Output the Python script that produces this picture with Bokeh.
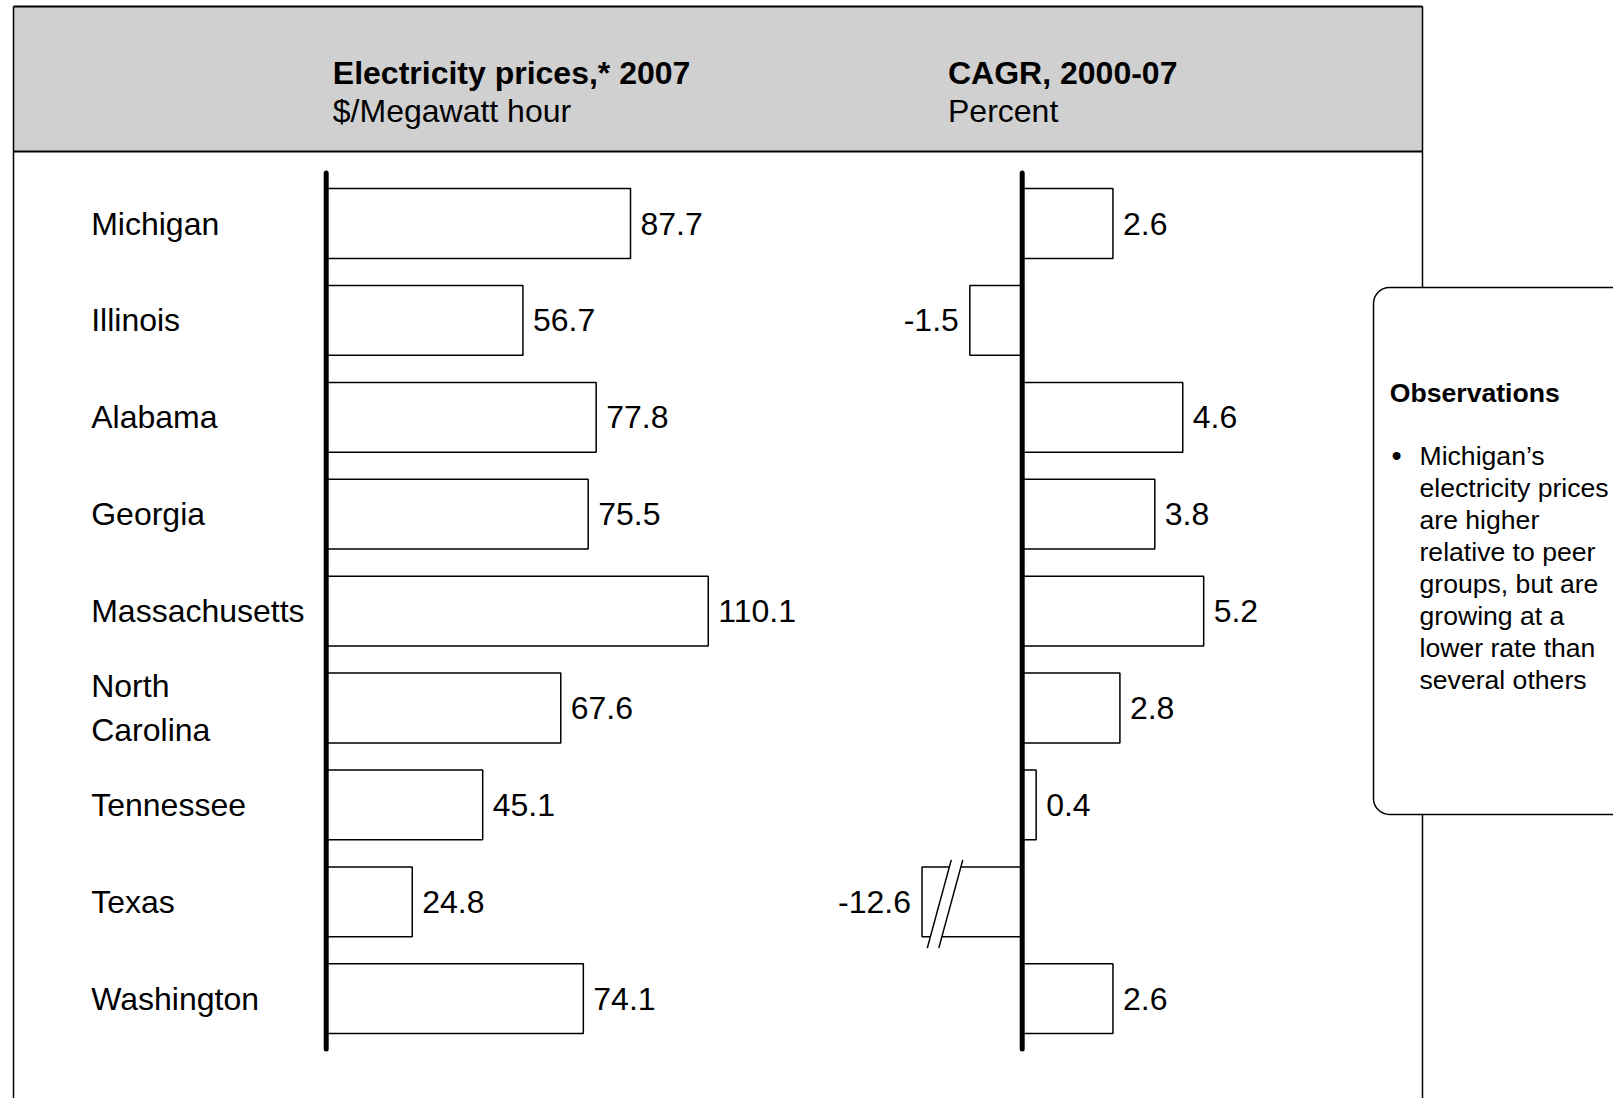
import numpy as np
from bokeh.plotting import figure
from bokeh.models import Range1d, ColumnDataSource, BoxAnnotation
from bokeh.core.properties import value
from bokeh.embed import file_html
from bokeh.resources import INLINE

# ---------------- data ----------------
states = ["Michigan", "Illinois", "Alabama", "Georgia", "Massachusetts",
          "North\nCarolina", "Tennessee", "Texas", "Washington"]
prices_2007 = [87.7, 56.7, 77.8, 75.5, 110.1, 67.6, 45.1, 24.8, 74.1]
cagr_2000_07 = [2.6, -1.5, 4.6, 3.8, 5.2, 2.8, 0.4, -12.6, 2.6]

left_title = "Electricity prices,* 2007"
left_unit = "$/Megawatt hour"
right_title = "CAGR, 2000-07"
right_unit = "Percent"
obs_title = "Observations"
obs_lines = ["Michigan\u2019s", "electricity prices", "are higher",
             "relative to peer", "groups, but are", "growing at a",
             "lower rate than", "several others"]

# ---------------- layout constants ----------------
W, H = 1613, 1098
CAGR_BREAK = -2.87          # negative CAGR bars longer than this are cut (axis break)
FONT = value("Liberation Sans")
FS = "32px"
OBS_FS = "26.6px"

n = len(states)
rows = np.arange(n)
price = np.array(prices_2007)
cagr = np.array(cagr_2000_07)
cagr_disp = np.maximum(cagr, CAGR_BREAK)

src = ColumnDataSource(dict(
    row=rows, state=states, price=price,
    price_lbl=[f"{v:.1f}" for v in price],
))
pos = cagr >= 0
src_pos = ColumnDataSource(dict(row=rows[pos], v=cagr_disp[pos],
                                lbl=[f"{v:.1f}" for v in cagr[pos]]))
src_neg = ColumnDataSource(dict(row=rows[~pos], v=cagr_disp[~pos],
                                lbl=[f"{v:.1f}" for v in cagr[~pos]]))
src_cagr = ColumnDataSource(dict(row=rows, v=cagr_disp))

# ---------------- figure ----------------
p = figure(width=W, height=H, x_range=Range1d(0, W), y_range=Range1d(H, 0),
           output_backend="svg", toolbar_location=None, min_border=0,
           x_axis_location=None, y_axis_location=None,
           outline_line_color=None, background_fill_color="white")
p.grid.visible = False

PX_PRICE, Z_PRICE = 3.47, 325.7
PX_CAGR, Z_CAGR = 34.9, 1021.7
ROW_PX, ROW0 = 96.9, 223.0
p.extra_x_ranges = {
    "price": Range1d(-Z_PRICE / PX_PRICE, (W - Z_PRICE) / PX_PRICE),
    "cagr": Range1d(-Z_CAGR / PX_CAGR, (W - Z_CAGR) / PX_CAGR),
}
p.extra_y_ranges = {"rows": Range1d((H - ROW0) / ROW_PX, -ROW0 / ROW_PX)}

# header band + frame
BOX_L, BOX_T, BOX_B = 1373, 287, 814
p.quad(left=13, right=1422, top=6, bottom=151, fill_color="#d0d0d0", line_color=None)
p.segment(x0=[13, 1422, 1422, 13, 13], y0=[6, 6, BOX_B, 6, 151],
          x1=[13, 1422, 1422, 1422, 1422], y1=[H, BOX_T, H, 6, 151],
          line_color="black", line_width=[1.5, 1.5, 1.5, 2, 2])

# header texts
p.text(x=[332.3, 947.5], y=[72, 72], text=[left_title, right_title],
       text_font=FONT, text_font_size=FS, text_font_style="bold",
       text_baseline="middle", text_align="left", text_color="black")
p.text(x=[332.3, 947.5], y=[110, 110], text=[left_unit, right_unit],
       text_font=FONT, text_font_size=FS,
       text_baseline="middle", text_align="left", text_color="black")

# state labels
p.text(x=90.7, y="row", text="state", source=src, y_range_name="rows",
       text_font=FONT, text_font_size=FS, text_baseline="middle",
       text_align="left", text_color="black", text_line_height=1.2)

# left chart: prices
p.hbar(y="row", left=0, right="price", height=0.72, source=src,
       x_range_name="price", y_range_name="rows",
       fill_color="white", line_color="black", line_width=1.5)
p.text(x="price", y="row", text="price_lbl", source=src, x_offset=10,
       x_range_name="price", y_range_name="rows",
       text_font=FONT, text_font_size=FS, text_baseline="middle",
       text_align="left", text_color="black")

# right chart: CAGR
p.hbar(y="row", left=0, right="v", height=0.72, source=src_cagr,
       x_range_name="cagr", y_range_name="rows",
       fill_color="white", line_color="black", line_width=1.5)
p.text(x="v", y="row", text="lbl", source=src_pos, x_offset=10,
       x_range_name="cagr", y_range_name="rows",
       text_font=FONT, text_font_size=FS, text_baseline="middle",
       text_align="left", text_color="black")
p.text(x="v", y="row", text="lbl", source=src_neg, x_offset=-11,
       x_range_name="cagr", y_range_name="rows",
       text_font=FONT, text_font_size=FS, text_baseline="middle",
       text_align="right", text_color="black")

# axis-break marks on bars cut at CAGR_BREAK
cut = np.where(cagr < CAGR_BREAK)[0]
slope = -0.755   # x units per row along the slash
for r in cut:
    yb, yt = r + 0.478, r - 0.433
    x1b, x2b = CAGR_BREAK + 0.15, CAGR_BREAK + 0.48
    gy = 0.375
    gx = lambda xb, yy: xb + slope * (yy - yb)
    p.patch(x=[gx(x1b, r + gy), gx(x2b, r + gy), gx(x2b, r - gy), gx(x1b, r - gy)],
            y=[r + gy, r + gy, r - gy, r - gy],
            x_range_name="cagr", y_range_name="rows",
            fill_color="white", line_color=None)
    p.segment(x0=[x1b, x2b], y0=[yb, yb],
              x1=[gx(x1b, yt), gx(x2b, yt)], y1=[yt, yt],
              x_range_name="cagr", y_range_name="rows",
              line_color="black", line_width=1.5)

# vertical axes
p.segment(x0=[0], y0=[-0.52], x1=[0], y1=[n - 1 + 0.52],
          x_range_name="price", y_range_name="rows",
          line_color="black", line_width=5, line_cap="round")
p.segment(x0=[0], y0=[-0.52], x1=[0], y1=[n - 1 + 0.52],
          x_range_name="cagr", y_range_name="rows",
          line_color="black", line_width=5, line_cap="round")

# observations box
box = BoxAnnotation(left=BOX_L, right=1700, top=BOX_T, bottom=BOX_B,
                    fill_color="white", fill_alpha=1.0,
                    line_color="black", line_alpha=1.0, line_width=1.5,
                    border_radius=16, level="underlay")
p.add_layout(box)
p.text(x=[1389.3], y=[392], text=[obs_title], text_font=FONT,
       text_font_size=OBS_FS, text_font_style="bold",
       text_baseline="middle", text_align="left", text_color="black")
p.text(x=[1391], y=[455.7], text=["\u2022"], text_font=FONT,
       text_font_size="29px", text_baseline="middle", text_align="left",
       text_color="black")
p.text(x=[1419.0] * len(obs_lines),
       y=[455.7 + 31.9 * i for i in range(len(obs_lines))],
       text=obs_lines, text_font=FONT, text_font_size=OBS_FS,
       text_baseline="middle", text_align="left", text_color="black")

open("out.html", "w").write(file_html(p, INLINE))
